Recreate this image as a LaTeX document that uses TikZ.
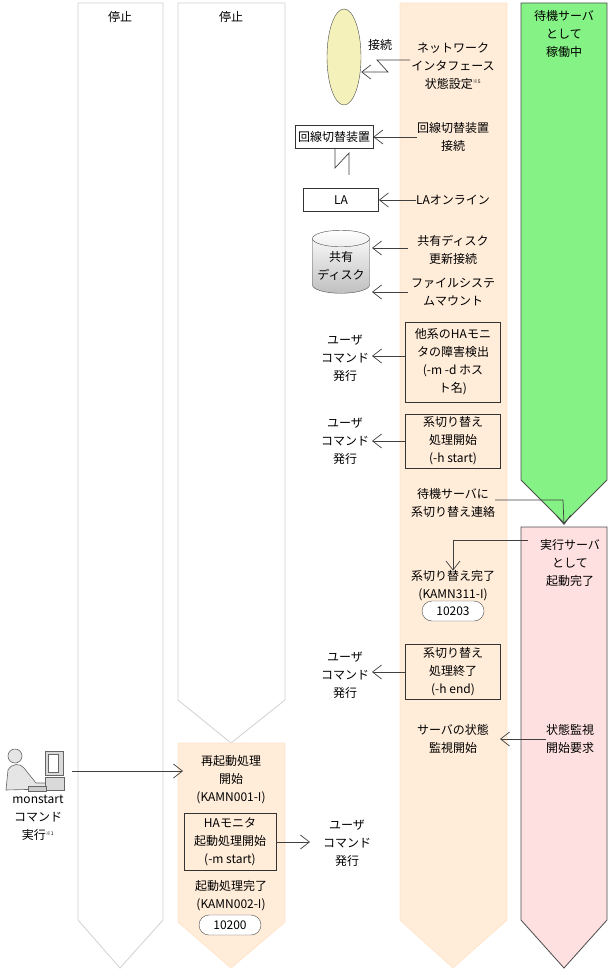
\documentclass[tikz,border=0pt]{standalone}
\usepackage{fontspec}
\setmainfont{Noto Sans CJK JP}
\usetikzlibrary{shapes.geometric,arrows.meta}
\begin{document}
\begin{tikzpicture}[x=1pt,y=-1pt,
  txt/.style={font=\fontsize{12}{18}\selectfont,align=center,inner sep=0pt},
  col/.style={draw=black!18,fill=white,line width=0.8pt},
  ocol/.style={draw=orange!20,fill=orange!15!white,line width=0.8pt},
  gcol/.style={draw=black!70,fill=green!45!white!95!black,line width=0.8pt},
  pcol/.style={draw=black!70,fill=red!12!white,line width=0.8pt},
  bx/.style={draw=black!80,fill=white,line width=0.7pt},
  obx/.style={draw=black!80,line width=0.7pt},
  arr/.style={draw=black!75,line width=0.7pt,-{Straight Barb[length=9pt,width=14pt]}},
  oval/.style={draw=black!70,fill=white,rounded corners=10pt,minimum width=62pt,minimum height=20pt,font=\fontsize{12}{13}\selectfont}]
\useasboundingbox (0,0) rectangle (609,973);
% columns
\draw[col] (78,3)--(163,3)--(163,920)--(120,968)--(78,920)--cycle;
\draw[col] (178,3)--(285,3)--(285,700)--(231,743)--(178,700)--cycle;
\draw[ocol] (178,743)--(285,743)--(285,922)--(231,968)--(178,922)--cycle;
\draw[ocol] (400,3)--(507,3)--(507,920)--(453,968)--(400,920)--cycle;
\draw[gcol] (521,3)--(607,3)--(607,480)--(564,523)--(521,480)--cycle;
\draw[pcol] (521,527)--(607,527)--(607,920)--(564,968)--(521,920)--cycle;
\node[txt] (h1) at (120,17) {停止};
\node[txt] (h2) at (231,17) {停止};
\node[txt] (h3) at (564,34) {待機サーバ\\として\\稼働中};
% network
\node[ellipse,draw=black!70,fill=yellow!25!white!95!black,minimum width=34pt,minimum height=96pt,inner sep=0pt] (ell) at (344,57) {};
\node[txt] (con) at (380,45) {接続};
\node[txt] (nw) at (453,66) {ネットワーク\\インタフェース\\状態設定\textsuperscript{\tiny ※5}};
\coordinate (z1) at (410,60);
\draw[arr] (z1)--(377,60)--(388,72)--(ell.east |- 0,72);
% line switch
\node[bx,txt,inner sep=3pt,minimum height=23pt] (sw) at (334,137) {回線切替装置};
\node[txt] (swt) at (453,137) {回線切替装置\\接続};
\draw[arr] (swt.west)--(sw.east);
\coordinate (s1) at (335,148);
\coordinate (s2) at (349,175);
\draw[black!75,line width=0.7pt] (s1)--(335,168)--(349,153)--(s2);
% LA
\node[bx,txt,minimum width=75pt,minimum height=23pt] (la) at (341,200) {LA};
\node[txt] (lat) at (453,200) {LAオンライン};
\draw[arr] (lat.west)--(la.east);
% disk
\node[cylinder,shape border rotate=90,aspect=0.35,draw=black!70,top color=white,bottom color=black!25,minimum width=57pt,minimum height=63pt,txt] (disk) at (341,266) {共有\\ディスク};
\node[txt] (d1) at (453,250) {共有ディスク\\更新接続};
\node[txt] (d2) at (453,292) {ファイルシステ\\ムマウント};
\coordinate (d1e) at (372,248);
\coordinate (d2e) at (372,292);
\draw[arr] (408,248)--(d1e);
\draw[arr] (408,292)--(d2e);
% HA detect
\node[obx,txt,minimum width=95pt,minimum height=80pt] (det) at (453,362) {他系のHAモニ\\タの障害検出\\(-m -d ホス\\ト名)};
\node[txt] (u1) at (345,358) {ユーザ\\コマンド\\発行};
\draw[arr] (det.west |- 0,356)--(372,356);
\node[obx,txt,minimum width=95pt,minimum height=54pt] (sws) at (453,441) {系切り替え\\処理開始\\(-h start)};
\node[txt] (u2) at (345,441) {ユーザ\\コマンド\\発行};
\draw[arr] (sws.west)--(372,441);
\node[txt] (cont) at (453,503) {待機サーバに\\系切り替え連絡};
\coordinate (c1) at (564,525);
\draw[arr] (cont.east |- 0,500)--(563,500)--(c1);
\node[txt] (run) at (570,563) {実行サーバ\\として\\起動完了};
\node[txt] (done) at (453,586) {系切り替え完了\\(KAMN311-I)};
\draw[arr] (528,540)--(453,540)--(done.north);
\node[oval] (o1) at (453,611) {10203};
\node[obx,txt,minimum width=95pt,minimum height=55pt] (swe) at (453,672) {系切り替え\\処理終了\\(-h end)};
\node[txt] (u3) at (345,675) {ユーザ\\コマンド\\発行};
\draw[arr] (swe.west)--(372,672);
\node[txt] (mon) at (453,739) {サーバの状態\\監視開始};
\node[txt] (req) at (570,739) {状態監視\\開始要求};
\draw[arr] (req.west)--(500,739);
% restart
\node[txt] (rs) at (231,780) {再起動処理\\開始\\(KAMN001-I)};
\node[obx,txt,minimum width=92pt,minimum height=57pt] (ha) at (230,842) {HAモニタ\\起動処理開始\\(-m start)};
\node[txt] (u4) at (347,843) {ユーザ\\コマンド\\発行};
\draw[arr] (ha.east)--(310,842);
\node[txt] (sd) at (231,896) {起動処理完了\\(KAMN002-I)};
\node[oval] (o2) at (230,925) {10200};
% person
\node[txt] (ms) at (38,818) {monstart\\コマンド\\実行\textsuperscript{\tiny ※1}};
\begin{scope}[draw=black!60,line width=0.6pt]
\draw[fill=black!10] (15,756) circle (7);
\draw[fill=black!10] (6,790)--(8,770) .. controls (12,763) and (20,763) .. (24,768)--(36,783)--(46,783)--(46,789)--cycle;
\draw[fill=black!15] (45,751) rectangle (63,775);
\draw[fill=white] (48,754) rectangle (58,772);
\draw[fill=black!15] (45,777) rectangle (64,790);
\draw[fill=black!20] (28,786) rectangle (46,791);
\end{scope}
\coordinate (pp) at (72,771);
\draw[arr] (pp)--(183,771);
\end{tikzpicture}
\end{document}
